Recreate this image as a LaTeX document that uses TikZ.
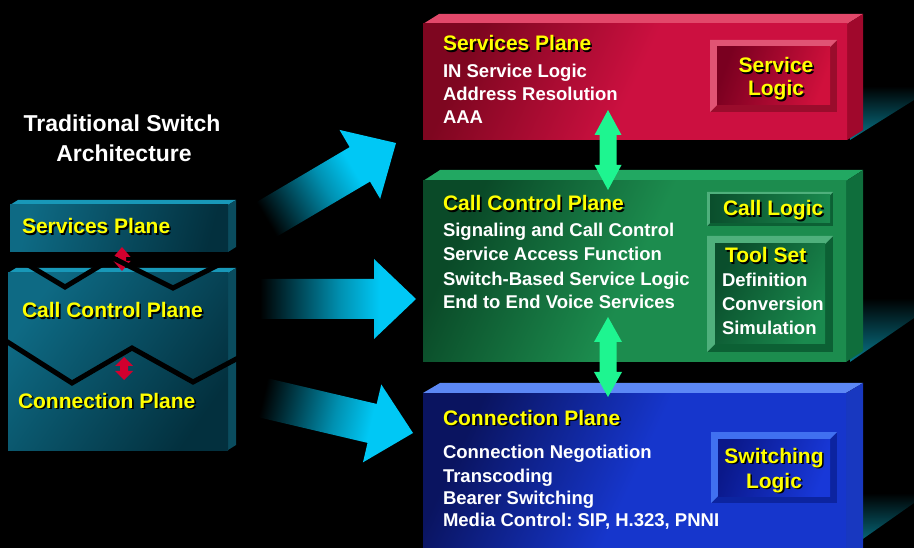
\documentclass[tikz,border=0pt]{standalone}
\usepackage{fontspec}
\setmainfont{Liberation Sans}
\usetikzlibrary{calc}
\frenchspacing

\definecolor{ylw}{HTML}{FFFF00}
\definecolor{cyanA}{HTML}{00C8F5}
\definecolor{mint}{HTML}{1EF590}
\definecolor{crim}{HTML}{D2002E}
\definecolor{redTop}{HTML}{E2486A}
\definecolor{redSide}{HTML}{A0082C}
\definecolor{redA}{HTML}{7E0620}
\definecolor{redB}{HTML}{CC1040}
\definecolor{grnTop}{HTML}{22A862}
\definecolor{grnSide}{HTML}{0F6E3C}
\definecolor{grnA}{HTML}{0A4A28}
\definecolor{grnB}{HTML}{1C8C4E}
\definecolor{bluTop}{HTML}{5C88F5}
\definecolor{bluSide}{HTML}{1838C0}
\definecolor{bluA}{HTML}{0A1460}
\definecolor{bluB}{HTML}{1636CC}
\definecolor{tlTop}{HTML}{1898B8}
\definecolor{tlSide}{HTML}{0A4C5E}
\definecolor{tlA}{HTML}{0E6A84}
\definecolor{tlB}{HTML}{03303E}
\definecolor{tlShadow}{HTML}{08788C}
\definecolor{rbL}{HTML}{E05474}
\definecolor{rbD}{HTML}{9A0C2C}
\definecolor{rbA}{HTML}{7A0020}
\definecolor{rbB}{HTML}{D0103C}
\definecolor{gbL}{HTML}{4FB07C}
\definecolor{gbD}{HTML}{0C6034}
\definecolor{gbA}{HTML}{0A4E2C}
\definecolor{gbB}{HTML}{1A8A4E}
\definecolor{bbL}{HTML}{4070F0}
\definecolor{bbD}{HTML}{0C24A0}
\definecolor{bbA}{HTML}{0A188A}
\definecolor{bbB}{HTML}{1838D8}

\pgfdeclarehorizontalshading{arrowshade}{100bp}{color(0bp)=(black); color(25bp)=(black); color(28bp)=(black); color(42bp)=(cyanA!42!black); color(52bp)=(cyanA!72!black); color(64bp)=(cyanA); color(100bp)=(cyanA)}

% 3D slab: x1,y1,x2,y2 (front face), dx, dy (depth), top colour, side colour, front style
\newcommand{\slab}[9]{%
  \fill[#7] (#1,#2) -- (#1+#5,#2-#6) -- (#3+#5,#2-#6) -- (#3,#2) -- cycle;
  \fill[#8] (#3,#2) -- (#3+#5,#2-#6) -- (#3+#5,#4-#6) -- (#3,#4) -- cycle;
  \shade[#9] (#1,#2) rectangle (#3,#4);}

% bevelled button: x1,y1,x2,y2, bevel, light, dark, face style
\newcommand{\bevel}[8]{%
  \fill[#7] (#1,#2) rectangle (#3,#4);
  \fill[#6] (#1,#2) -- (#3,#2) -- (#3-#5,#2+#5) -- (#1+#5,#2+#5) -- (#1+#5,#4-#5) -- (#1,#4) -- cycle;
  \shade[#8] (#1+#5,#2+#5) rectangle (#3-#5,#4-#5);}

% yellow label with drop shadow: name, x, y, anchor, text
\newcommand{\ylab}[5]{%
  \node[hd, anchor=#4, text=black] (#1-sh) at (#2+1.6,#3+1.6) {#5};
  \node[hd, anchor=#4, text=ylw] (#1) at (#2,#3) {#5};}

% vertical double block arrow between two named points
\newcommand{\vdarrow}[6]{%
  \fill[#6] let \p1=(#1), \p2=(#2) in
   (\x1,\y1) -- (\x1+#3,\y1-#5) -- (\x1+#4,\y1-#5) -- (\x1+#4,\y2+#5) -- (\x1+#3,\y2+#5)
   -- (\x1,\y2) -- (\x1-#3,\y2+#5) -- (\x1-#4,\y2+#5) -- (\x1-#4,\y1-#5) -- (\x1-#3,\y1-#5) -- cycle;}

% big block arrow from tail to tip with gradient
\newcommand{\bigarrow}[3]{%
  \coordinate (#1J) at ($(#2)!42pt!(#1)$);
  \shade[shading=arrowshade, shading angle=#3]
   ($(#1)!20pt!90:(#2)$) -- ($(#1J)!20pt!90:(#2)$) -- ($(#1J)!40pt!90:(#2)$) -- (#2)
   -- ($(#1J)!40pt!-90:(#2)$) -- ($(#1J)!20pt!-90:(#2)$) -- ($(#1)!20pt!-90:(#2)$) -- cycle;}

\begin{document}
\begin{tikzpicture}[x=1pt,y=-1pt,
  hd/.style={font=\bfseries\fontsize{21}{24}\selectfont, inner sep=0pt, outer sep=0pt},
  bd/.style={font=\bfseries\fontsize{18.5}{22}\selectfont, text=white, inner sep=0pt, outer sep=0pt, anchor=base west},
  tt/.style={font=\bfseries\fontsize{23}{26}\selectfont, text=white, inner sep=0pt, anchor=base}]

\useasboundingbox (0,0) rectangle (914,548);
\fill[black] (0,0) rectangle (914,548);
\clip (0,0) rectangle (914,548);

% floor reflections
\shade[top color=black, bottom color=tlShadow] (850,86) -- (914,86) -- (914,100) -- (850,140) -- cycle;
\shade[top color=black, bottom color=tlShadow] (850,298) -- (914,298) -- (914,318) -- (850,362) -- cycle;
\shade[top color=black, bottom color=tlShadow] (850,493) -- (914,493) -- (914,503) -- (850,548) -- cycle;

% ---------- right: three planes ----------
\slab{423}{24}{847}{140}{16}{10}{redTop}{redSide}{left color=redA, right color=redB, middle color=redB, shading angle=65}
\slab{423}{181}{846}{362}{17}{11}{grnTop}{grnSide}{left color=grnA, right color=grnB, middle color=grnB, shading angle=65}
\slab{423}{393}{846}{560}{17}{10}{bluTop}{bluSide}{left color=bluA, right color=bluB, middle color=bluB, shading angle=65}

\bevel{710}{40}{837}{112}{7}{rbL}{rbD}{left color=rbA, right color=rbB, shading angle=70}
\bevel{707}{192}{833}{226}{3}{gbL}{gbD}{left color=gbA, right color=gbB}
\bevel{707}{236}{833}{352}{8}{gbL}{gbD}{left color=gbA, right color=gbB, shading angle=60}
\bevel{711}{432}{837}{503}{7}{bbL}{bbD}{left color=bbA, right color=bbB, shading angle=70}

% services plane text
\ylab{rsp}{443}{51}{base west}{Services Plane}
\node[bd] (r1) at (443,78) {IN Service Logic};
\node[bd] (r2) at (443,101) {Address Resolution};
\node[bd] (r3) at (443,124) {AAA};
\ylab{slA}{776}{73}{base}{Service}
\ylab{slB}{776}{96}{base}{Logic}

% call control plane text
\ylab{gcp}{443}{211}{base west}{Call Control Plane}
\node[bd] (g1) at (443,237) {Signaling and Call Control};
\node[bd] (g2) at (443,261) {Service Access Function};
\node[bd] (g3) at (443,286) {Switch-Based Service Logic};
\node[bd] (g4) at (443,309) {End to End Voice Services};
\ylab{clog}{723}{216}{base west}{Call Logic}
\ylab{tset}{725}{263}{base west}{Tool Set}
\node[bd] (t1) at (722,287) {Definition};
\node[bd] (t2) at (722,311) {Conversion};
\node[bd] (t3) at (722,335) {Simulation};

% connection plane text
\ylab{bcp}{443}{425}{base west}{Connection Plane}
\node[bd] (b1) at (443,458) {Connection Negotiation};
\node[bd] (b2) at (443,482) {Transcoding};
\node[bd] (b3) at (443,504) {Bearer Switching};
\node[bd] (b4) at (443,526) {Media Control: SIP, H.323, PNNI};
\ylab{swA}{774}{463}{base}{Switching}
\ylab{swB}{774}{488}{base}{Logic}

% green double arrows between planes
\coordinate (ga1t) at (608,110);
\coordinate (ga1b) at (608,190);
\coordinate (ga2t) at (608,317);
\coordinate (ga2b) at (608,397);
\vdarrow{ga1t}{ga1b}{13.5}{8.5}{25}{mint}
\vdarrow{ga2t}{ga2b}{14}{8.5}{25}{mint}

% ---------- left: traditional switch ----------
\node[tt] (tt1) at (122,132) {Traditional Switch};
\node[tt] (tt2) at (124,162) {Architecture};

\slab{10}{205}{228}{252}{8}{5}{tlTop}{tlSide}{left color=tlA, right color=tlB, shading angle=75}
\slab{8}{273}{228}{450}{8}{5}{tlTop}{tlSide}{left color=tlA, right color=tlB, shading angle=55}

\coordinate (ra1t) at (122,247);
\coordinate (ra1b) at (122,271);
\coordinate (ra2t) at (124,357);
\coordinate (ra2b) at (124,380);
\vdarrow{ra1t}{ra1b}{8.5}{4}{10}{crim}
\vdarrow{ra2t}{ra2b}{9}{4}{9}{crim}

\draw[line width=5pt, black, line join=miter] (20,260) -- (65,287) -- (113,258) -- (173,288) -- (238,255);
\draw[line width=5pt, black, line join=miter] (6,341) -- (72,383) -- (132,348) -- (193,382) -- (240,357);

\ylab{lsp}{22}{234}{base west}{Services Plane}
\ylab{lcc}{22}{318}{base west}{Call Control Plane}
\ylab{lcn}{18}{408}{base west}{Connection Plane}

% ---------- big arrows ----------
\coordinate (a1t) at (252,228);
\coordinate (a1p) at (396,143);
\coordinate (a2t) at (250,299);
\coordinate (a2p) at (416,299);
\coordinate (a3t) at (247,394);
\coordinate (a3p) at (413,433);
\bigarrow{a1t}{a1p}{30.6}
\bigarrow{a2t}{a2p}{0}
\bigarrow{a3t}{a3p}{-13.2}

\end{tikzpicture}
\end{document}
